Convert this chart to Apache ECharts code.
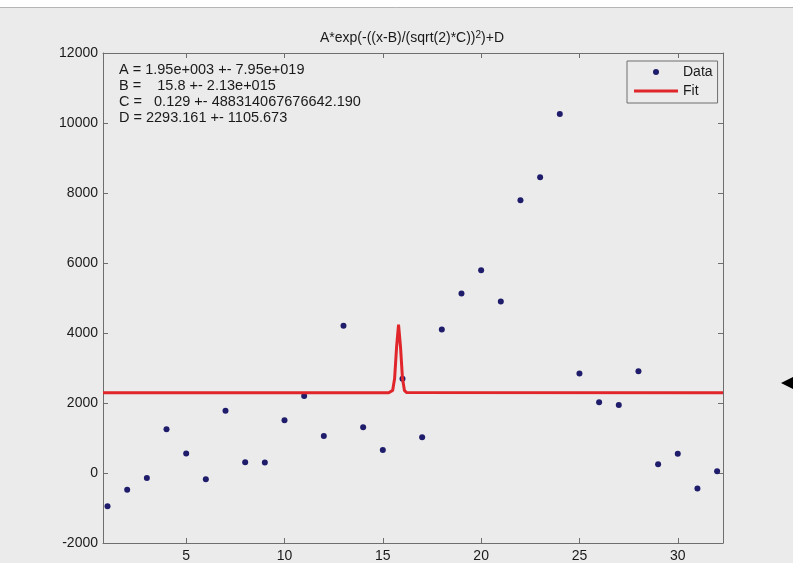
<!DOCTYPE html>
<html>
<head>
<meta charset="utf-8">
<script src="https://cdn.jsdelivr.net/npm/echarts@6/dist/echarts.min.js"></script>
<style>
html,body{margin:0;padding:0;background:#ebebeb;}
#c{width:793px;height:563px;}
</style>
</head>
<body>
<div id="c"></div>
<script>
// Data
const dataX = [1,2,3,4,5,6,7,8,9,10,11,12,13,14,15,16,17,18,19,20,21,22,23,24,25,26,27,28,29,30,31,32];
const dataY = [-950,-480,-140,1250,560,-180,1780,310,300,1510,2200,1060,4210,1310,660,2690,1020,4100,5130,5790,4900,7790,8450,10260,2840,2020,1940,2910,250,550,-440,50];
const fitX = [0.77,15.3,15.4,15.5,15.6,15.7,15.8,15.9,16.0,16.1,16.2,16.3,32.3];
const fitY = [2293,2293,2300,2360,2700,3600,4240,3600,2700,2360,2300,2293,2293];
const xTicks = [5,10,15,20,25,30];
const titleParts = ['A*exp(-((x-B)/(sqrt(2)*C))', '2', ')+D'];
const annotLines = [
  'A = 1.95e+003 +- 7.95e+019',
  'B =    15.8 +- 2.13e+015',
  'C =   0.129 +- 488314067676642.190',
  'D = 2293.161 +- 1105.673'
];

const FONT = 'Liberation Sans, Arial, sans-serif';
const chart = echarts.init(document.getElementById('c'), null, {renderer:'canvas'});
const axisLineStyle = {color:'#6e6e6e', width:1};
const xMin = 0.77, xMax = 32.3;

chart.setOption({
  backgroundColor:'#ebebeb',
  animation:false,
  textStyle:{fontFamily:FONT},
  title:[{
    text:'{a|' + titleParts[0] + '}{s|' + titleParts[1] + '}{a|' + titleParts[2] + '}',
    left:'412', top:30, padding:0,
    textAlign:'center',
    textStyle:{
      fontWeight:'normal',
      rich:{
        a:{fontFamily:FONT, fontSize:14, fontWeight:'normal', color:'#1a1a1a', lineHeight:17},
        s:{fontFamily:FONT, fontSize:10, fontWeight:'normal', color:'#1a1a1a', lineHeight:10, verticalAlign:'top'}
      }
    }
  },{
    text: annotLines.join('\n'),
    left:119, top:62, padding:0,
    textStyle:{fontFamily:FONT, fontSize:14.5, fontWeight:'normal', color:'#1a1a1a', lineHeight:16}
  }],
  legend:{
    orient:'vertical',
    left:627, top:61,
    padding:[3,5,4,7],
    itemWidth:44, itemHeight:6, itemGap:3,
    borderColor:'#6e6e6e', borderWidth:1,
    backgroundColor:'#ebebeb',
    textStyle:{fontFamily:FONT, fontSize:14, color:'#1a1a1a', lineHeight:16},
    data:[
      {name:'Data', icon:'circle'},
      {name:'Fit', icon:'path://M0,0h0.01v0.01h-0.01zM0,1.5h44v3h-44zM43.99,5.99h0.01v0.01h-0.01z'}
    ]
  },
  grid:{left:103, right:70, top:53, bottom:20, containLabel:false},
  xAxis:[{
    type:'value', min:xMin, max:xMax, position:'bottom',
    axisLine:{show:true, onZero:false, lineStyle:axisLineStyle},
    axisTick:{show:true, inside:true, length:5, customValues:xTicks, lineStyle:axisLineStyle},
    axisLabel:{show:true, customValues:xTicks, fontFamily:FONT, fontSize:14, color:'#1a1a1a', margin:6},
    splitLine:{show:false}
  },{
    type:'value', min:xMin, max:xMax, position:'top',
    axisLine:{show:true, onZero:false, lineStyle:axisLineStyle},
    axisTick:{show:true, inside:true, length:5, customValues:xTicks, lineStyle:axisLineStyle},
    axisLabel:{show:false},
    splitLine:{show:false}
  }],
  yAxis:[{
    type:'value', min:-2000, max:12000, interval:2000, position:'left',
    axisLine:{show:true, onZero:false, lineStyle:axisLineStyle},
    axisTick:{show:true, inside:true, length:5, lineStyle:axisLineStyle},
    axisLabel:{show:true, fontFamily:FONT, fontSize:14, color:'#1a1a1a', margin:5, formatter:(v)=>String(v)},
    splitLine:{show:false}
  },{
    type:'value', min:-2000, max:12000, interval:2000, position:'right',
    axisLine:{show:true, onZero:false, lineStyle:axisLineStyle},
    axisTick:{show:true, inside:true, length:5, lineStyle:axisLineStyle},
    axisLabel:{show:false},
    splitLine:{show:false}
  }],
  series:[{
    name:'Data', type:'scatter',
    data:dataX.map((x,i)=>[x,dataY[i]]),
    symbol:'circle', symbolSize:6,
    itemStyle:{color:'#1f1d6b', opacity:1},
    z:2
  },{
    name:'Fit', type:'line',
    data:fitX.map((x,i)=>[x,fitY[i]]),
    symbol:'none', showSymbol:false,
    lineStyle:{color:'#e0262b', width:3},
    itemStyle:{color:'#e0262b'},
    z:3
  }],
  graphic:[
    {type:'rect', shape:{x:0,y:0,width:793,height:7}, style:{fill:'#ffffff'}, silent:true},
    {type:'line', shape:{x1:0,y1:7.5,x2:793,y2:7.5}, style:{stroke:'#b5b5b5', lineWidth:1}, silent:true},
    {type:'polygon', shape:{points:[[781,383],[795,376],[795,390]]}, style:{fill:'#000000'}, silent:true}
  ]
});
</script>
</body>
</html>
